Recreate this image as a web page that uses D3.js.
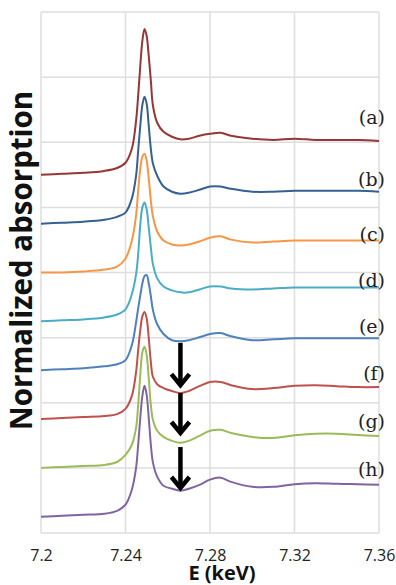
<!DOCTYPE html>
<html>
<head>
<meta charset="utf-8">
<script src="https://cdn.jsdelivr.net/npm/d3@7"></script>
<style>
  body { margin: 0; background: #fff; }
</style>
</head>
<body>
<svg id="chart" width="396" height="585"></svg>
<script>
// energy grid (keV), shared by all spectra
const energy = [7.200, 7.210, 7.220, 7.230, 7.236, 7.240, 7.243, 7.245, 7.246, 7.247, 7.248,
  7.249, 7.250, 7.251, 7.252, 7.253, 7.255, 7.258, 7.262, 7.266, 7.270, 7.275, 7.280,
  7.285, 7.290, 7.300, 7.310, 7.320, 7.330, 7.340, 7.350, 7.360]

const labels = ['(a)', '(b)', '(c)', '(d)', '(e)', '(f)', '(g)', '(h)']
const colors = ['#953735', '#376092', '#f79646', '#4bacc6', '#4f81bd', '#c0504d', '#9bbb59', '#8064a2']
const offsets = [11, 9.5, 8, 6.5, 5, 3.5, 2, 0.5]
const labelLevels = [12.75, 10.87, 9.18, 7.77, 6.36, 4.91, 3.44, 1.97]

// normalized absorption
const specA = [0, 0.03, 0.06, 0.12, 0.21, 0.37, 0.80, 1.66, 2.43, 3.35, 4.12, 4.48, 4.27, 3.65, 2.89, 2.12,
  1.60, 1.32, 1.17, 1.09, 1.11, 1.20, 1.26, 1.29, 1.20, 1.11, 1.07, 1.11, 1.07, 1.07, 1.07, 1.04]
const specB = [0, 0.03, 0.06, 0.12, 0.21, 0.34, 0.77, 1.47, 2.24, 3.01, 3.65, 3.90, 3.69, 3.01, 2.30, 1.84,
  1.47, 1.14, 0.98, 0.92, 0.95, 1.04, 1.14, 1.14, 1.07, 0.98, 0.98, 1.01, 1.01, 1.01, 1.01, 0.98]
const specC = [0, 0, 0.03, 0.09, 0.18, 0.43, 0.98, 1.75, 2.52, 3.19, 3.56, 3.65, 3.44, 2.89, 2.21, 1.72,
  1.26, 0.98, 0.86, 0.83, 0.86, 0.95, 1.07, 1.11, 1.01, 0.92, 0.95, 0.98, 0.98, 0.98, 0.98, 0.98]
const specD = [0, 0.03, 0.06, 0.12, 0.21, 0.37, 0.83, 1.44, 2.06, 2.98, 3.50, 3.65, 3.44, 2.89, 2.27, 1.75,
  1.32, 1.07, 0.95, 0.89, 0.89, 0.98, 1.07, 1.07, 1.01, 0.98, 1.01, 1.04, 1.04, 1.04, 1.04, 1.04]
const specE = [0, 0.03, 0.06, 0.12, 0.18, 0.31, 0.77, 1.47, 1.90, 2.30, 2.67, 2.89, 2.92, 2.67, 2.27, 1.84,
  1.41, 1.11, 0.92, 0.89, 0.92, 1.01, 1.11, 1.14, 1.04, 0.92, 0.95, 0.98, 0.98, 0.98, 0.98, 0.98]
const specF = [0, 0.03, 0.06, 0.09, 0.15, 0.31, 0.71, 1.44, 2.12, 2.73, 3.16, 3.29, 3.10, 2.49, 1.75, 1.29,
  1.07, 0.95, 0.86, 0.80, 0.86, 1.01, 1.14, 1.14, 1.04, 0.92, 0.95, 1.02, 1.04, 1.01, 0.98, 0.98]
const specG = [0, 0.03, 0.06, 0.09, 0.18, 0.40, 0.71, 1.23, 1.93, 2.86, 3.56, 3.72, 3.47, 2.76, 1.93, 1.47,
  1.14, 0.95, 0.83, 0.77, 0.83, 0.98, 1.14, 1.17, 1.07, 0.95, 0.92, 1.00, 1.05, 1.05, 1.01, 0.98]
const specH = [0, 0.03, 0.06, 0.09, 0.18, 0.37, 0.83, 1.50, 2.21, 3.04, 3.72, 4.02, 3.75, 3.04, 2.21, 1.66,
  1.23, 0.95, 0.86, 0.80, 0.86, 0.98, 1.14, 1.20, 1.07, 0.92, 0.92, 1.00, 1.03, 1.01, 1.00, 0.98]
const spectra = [specA, specB, specC, specD, specE, specF, specG, specH]

// pre-edge dip arrows for (f), (g), (h)
const arrowE = [7.266, 7.266, 7.266]
const arrowFrom = [5.84, 4.30, 2.64]
const arrowTo = [4.48, 3.01, 1.32]

const xTicks = [7.2, 7.24, 7.28, 7.32, 7.36]
const yGrid = [0, 2, 4, 6, 8, 10, 12, 14, 16]

const mLeft = 41, mRight = 379, mTop = 12, mBottom = 533

const svg = d3.select('#chart')

const x = d3.scaleLinear().domain([7.2, 7.36]).range([mLeft, mRight])
const y = d3.scaleLinear().domain([0, 16]).range([mBottom, mTop])

// grid
svg.append('g')
  .selectAll('line')
  .data(yGrid)
  .enter()
  .append('line')
  .attr('x1', mLeft).attr('x2', mRight)
  .attr('y1', d => y(d)).attr('y2', d => y(d))
  .attr('stroke', '#dedede')
  .attr('stroke-width', 1.5)

svg.append('g')
  .selectAll('line')
  .data(xTicks)
  .enter()
  .append('line')
  .attr('x1', d => x(d)).attr('x2', d => x(d))
  .attr('y1', mTop).attr('y2', mBottom)
  .attr('stroke', '#dedede')
  .attr('stroke-width', 1.5)

// x axis labels
const xAxis = svg.append('g')
  .attr('transform', `translate(0,${mBottom})`)
  .call(d3.axisBottom(x).tickValues(xTicks).tickSize(0).tickPadding(17).tickFormat(d3.format('')))
xAxis.select('.domain').remove()
xAxis.selectAll('text')
  .style('font-family', 'Open Sans')
  .style('font-size', '16px')
  .attr('fill', '#222')

// spectra
const line = d3.line()
  .x((d, i) => x(energy[i]))
  .curve(d3.curveCatmullRom.alpha(0.5))

svg.append('g')
  .selectAll('path')
  .data(spectra)
  .enter()
  .append('path')
  .attr('d', (d, k) => line.y(v => y(v + offsets[k]))(d))
  .attr('fill', 'none')
  .attr('stroke', (d, k) => colors[k])
  .attr('stroke-width', 2)

// labels
svg.append('g')
  .selectAll('text')
  .data(labels)
  .enter()
  .append('text')
  .attr('x', x(7.36) + 6)
  .attr('y', (d, i) => y(labelLevels[i]))
  .attr('dy', '0.35em')
  .attr('text-anchor', 'end')
  .style('font-family', 'DejaVu Serif')
  .style('font-size', '19px')
  .attr('fill', '#222')
  .text(d => d)

// arrows
const arrows = svg.append('g')
  .selectAll('g')
  .data(arrowE)
  .enter()
  .append('g')

arrows.append('line')
  .attr('x1', d => x(d)).attr('x2', d => x(d))
  .attr('y1', (d, i) => y(arrowFrom[i]))
  .attr('y2', (d, i) => y(arrowTo[i]) - 3)
  .attr('stroke', '#000')
  .attr('stroke-width', 4.5)

arrows.append('path')
  .attr('d', (d, i) => {
    const cx = x(d), ty = y(arrowTo[i])
    return `M${cx - 9},${ty - 13}L${cx},${ty - 2}L${cx + 9},${ty - 13}`
  })
  .attr('fill', 'none')
  .attr('stroke', '#000')
  .attr('stroke-width', 4.5)
  .attr('stroke-linejoin', 'miter')

// axis titles
svg.append('text')
  .attr('transform', `translate(32,${(mTop + mBottom) / 2 - 12}) rotate(-90)`)
  .attr('text-anchor', 'middle')
  .style('font-family', 'Open Sans')
  .style('font-weight', 'bold')
  .style('font-size', '29.5px')
  .attr('fill', '#111')
  .text('Normalized absorption')

svg.append('text')
  .attr('x', 222)
  .attr('y', 580)
  .attr('text-anchor', 'middle')
  .style('font-family', 'Open Sans')
  .style('font-weight', 'bold')
  .style('font-size', '20px')
  .attr('fill', '#111')
  .text('E (keV)')
</script>
</body>
</html>
